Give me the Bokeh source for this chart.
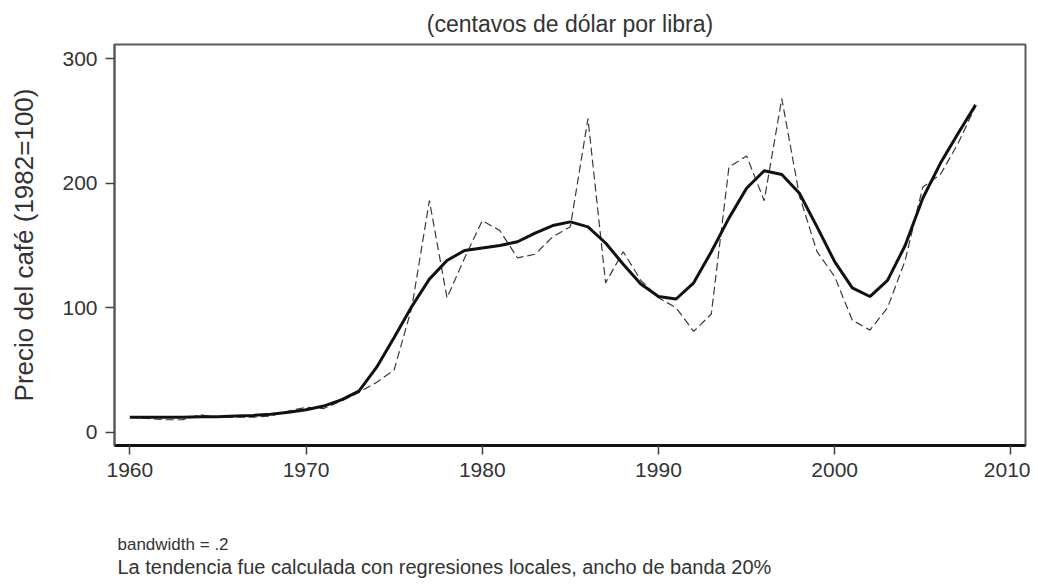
from bokeh.plotting import figure
from bokeh.models import Range1d, Title, FixedTicker, LinearAxis
from bokeh.embed import file_html
from bokeh.resources import INLINE

# ---- data -------------------------------------------------------------
years = list(range(1960, 2009))
precio = [12, 11, 10, 10, 14, 12, 12, 12, 13, 17,
          20, 19, 25, 32, 40, 50, 100, 186, 108, 140,
          170, 162, 140, 143, 157, 165, 252, 120, 145, 122,
          108, 100, 81, 95, 213, 222, 186, 268, 190, 145,
          125, 90, 82, 100, 138, 197, 207, 232, 262]
tendencia = [12, 12, 12, 12, 12.5, 12.5, 13, 13.5, 14.5, 16,
             18, 21, 26, 33, 52, 76, 101, 123, 138, 146,
             148, 150, 153, 160, 166, 169, 165, 152, 135, 119,
             109, 107, 120, 145, 172, 196, 210, 207, 192, 165,
             137, 116, 109, 122, 150, 188, 216, 240, 263]
x_ticks = [1960, 1970, 1980, 1990, 2000, 2010]
y_ticks = [0, 100, 200, 300]

titulo = "(centavos de dólar por libra)"
eje_y = "Precio del café (1982=100)"
nota1 = "bandwidth = .2"
nota2 = "La tendencia fue calculada con regresiones locales, ancho de banda 20%"

FONT = "Liberation Sans"
W, H = 1030, 585
FL, FT, FR, FB = 114, 44, 1025, 445   # frame edges on the canvas

p = figure(width=W, height=H, output_backend="svg", toolbar_location=None,
           x_range=Range1d(1959.13, 2010.83), y_range=Range1d(-10.7, 311.5),
           min_border_left=FL, min_border_right=W - FR, min_border_top=FT,
           min_border_bottom=H - FB)

p.line(years, precio, line_color="#3a3a3a", line_width=1.2, line_dash="8 4")
p.line(years, tendencia, line_color="#111111", line_width=3)

p.xgrid.visible = False
p.ygrid.visible = False
p.background_fill_color = "white"
p.border_fill_color = "white"
p.outline_line_color = "#5a5a5a"
p.outline_line_width = 2

p.xaxis.ticker = FixedTicker(ticks=x_ticks)
p.yaxis.ticker = FixedTicker(ticks=y_ticks)
for ax in (p.xaxis, p.yaxis):
    ax.major_tick_in = 0
    ax.major_tick_out = 9
    ax.minor_tick_line_color = None
    ax.major_tick_line_color = "#444444"
    ax.major_tick_line_width = 1.5
    ax.major_label_text_font = FONT
    ax.major_label_text_font_size = "21px"
    ax.major_label_text_color = "#333333"
    ax.major_label_standoff = 8

p.xaxis.axis_line_color = "#111111"
p.xaxis.axis_line_width = 3
p.yaxis.axis_line_color = "#5a5a5a"
p.yaxis.axis_line_width = 2
p.yaxis.major_label_orientation = "horizontal"

p.yaxis.axis_label = eje_y
p.yaxis.axis_label_text_font = FONT
p.yaxis.axis_label_text_font_size = "26px"
p.yaxis.axis_label_text_font_style = "normal"
p.yaxis.axis_label_text_color = "#333333"
p.yaxis.axis_label_standoff = 20

p.title.text = titulo
p.title.align = "center"
p.title.text_font = FONT
p.title.text_font_size = "23px"
p.title.text_font_style = "normal"
p.title.text_color = "#333333"
p.title.standoff = 16

# invisible spacer between the x axis and the notes: one white tick, no label
spacer = LinearAxis(ticker=FixedTicker(ticks=[1985]), axis_line_color=None,
                    major_tick_line_color="white", minor_tick_line_color=None,
                    major_tick_in=0, major_tick_out=53,
                    major_label_overrides={1985: ""},
                    major_label_text_font_size="0px", major_label_standoff=0)
p.add_layout(spacer, "below")

t1 = Title(text=nota1, align="left", offset=3, standoff=0,
           text_font=FONT, text_font_size="17px", text_font_style="normal",
           text_color="#333333")
t2 = Title(text=nota2, align="left", offset=3, standoff=0,
           text_font=FONT, text_font_size="20px", text_font_style="normal",
           text_color="#333333")
p.add_layout(t1, "below")
p.add_layout(t2, "below")

open("out.html", "w").write(file_html(p, INLINE))
